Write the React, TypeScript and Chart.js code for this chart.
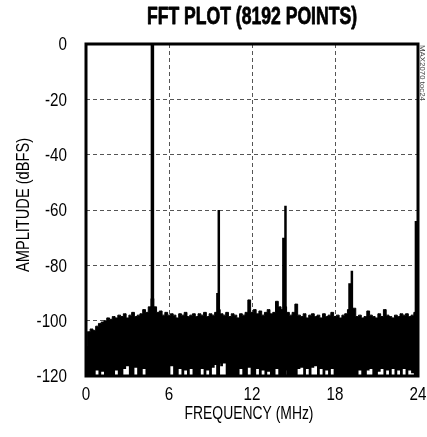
import React, { useEffect, useRef } from "react";
import { Chart, registerables } from "chart.js";

Chart.register(...registerables);

const TITLE = "FFT PLOT (8192 POINTS)";
const X_TITLE = "FREQUENCY (MHz)";
const Y_TITLE = "AMPLITUDE (dBFS)";
const SIDE_NOTE = "MAX2070 toc24";

const FREQ_STEP = 0.2; // MHz between noise-floor samples
const noiseTop = [
  -109, -104, -103, -103.5, -102, -101, -100.5, -100, -99, -99.5,
  -98.5, -99, -98, -98.5, -97.5, -99, -98, -97, -98.5, -98,
  -97.5, -96, -97, -95, -92, -95, -97, -96.5, -98, -97,
  -98, -97.5, -98, -99, -97.5, -98, -97, -98.5, -98, -97.5,
  -98.5, -97.5, -98, -97, -98.5, -97.5, -98, -97, -96, -97.5,
  -98, -97, -98.5, -97.5, -98, -99, -97.5, -98, -97, -92.5,
  -97, -96, -97.5, -96.5, -98, -97, -96, -97.5, -97, -93,
  -95, -96, -95, -97, -98, -97, -94, -98, -98.5, -97.5,
  -99, -98, -97.5, -98.5, -98, -99, -97.5, -98.5, -98, -97,
  -98.5, -98, -99, -98, -97.5, -96, -97, -95.5, -98.5, -98,
  -99, -98.5, -96.5, -98, -98.5, -99, -97.5, -98.5, -96, -98,
  -98.5, -99, -98, -98.5, -97.5, -98, -97.5, -98.5, -98, -97,
  -96,
];
const noiseLow = [
  -120, -120, -120, -120, -118, -120, -118.5, -120, -120, -120,
  -120, -118, -120, -120, -117.5, -116.5, -120, -120, -117, -120,
  -120, -117.5, -120, -120, -118, -120, -120, -120, -120, -120,
  -120, -116.5, -120, -120, -117.5, -120, -118, -120, -117.5, -120,
  -120, -120, -117.5, -120, -118, -120, -117, -116, -115.5, -116.5,
  -115.5, -120, -120, -120, -120, -120, -117.5, -120, -120, -117,
  -120, -120, -117.5, -120, -118, -120, -118.5, -120, -120, -117.5,
  -120, -120, -118, -120, -120, -120, -120, -117.5, -117, -120,
  -117.5, -120, -117, -116.5, -120, -117.5, -120, -118, -120, -117.5,
  -120, -120, -120, -120, -120, -120, -117.5, -120, -120, -118,
  -120, -120, -118, -117.5, -120, -120, -118.5, -117.5, -120, -118,
  -120, -117.5, -120, -118, -120, -117.5, -120, -118, -119, -120,
  -120,
];

const mainSpikeFreqs = [4.8];
const mainSpikeLevels = [0];
const harmonicFreqs = [9.6, 9.5, 14.42, 14.27, 19.22, 19.05, 23.85];
const harmonicLevels = [-60, -90, -58.5, -70, -82, -86.5, -64];

const xTickValues = [0, 6, 12, 18, 24];
const yTickValues = [-120, -100, -80, -60, -40, -20, 0];

const FONT = "'Liberation Sans', Arial, sans-serif";
const NARROW = 0.8;

function spikePoints(freqs: number[], levels: number[], floor: number) {
  const pts: { x: number; y: number | null }[] = [];
  freqs.forEach((f, i) => {
    pts.push({ x: f, y: floor });
    pts.push({ x: f, y: levels[i] });
    pts.push({ x: f, y: null });
  });
  return pts;
}

function fitText(
  ctx: CanvasRenderingContext2D,
  text: string,
  x: number,
  y: number,
  w: number,
  font: string,
  rot: number,
  stroke = 0
) {
  ctx.save();
  ctx.font = font;
  ctx.textAlign = "center";
  ctx.textBaseline = "middle";
  const m = ctx.measureText(text).width;
  const s = m > 0 ? w / m : 1;
  ctx.translate(x, y);
  ctx.rotate(rot);
  ctx.scale(s, 1);
  ctx.fillText(text, 0, 0);
  if (stroke > 0) {
    ctx.lineWidth = stroke;
    ctx.strokeStyle = ctx.fillStyle as string;
    ctx.lineJoin = "round";
    ctx.strokeText(text, 0, 0);
  }
  ctx.restore();
}

function narrowText(
  ctx: CanvasRenderingContext2D,
  text: string,
  x: number,
  y: number,
  align: CanvasTextAlign,
  font: string
) {
  ctx.save();
  ctx.font = font;
  ctx.textAlign = align;
  ctx.textBaseline = "middle";
  ctx.translate(x, y);
  ctx.scale(NARROW, 1);
  ctx.fillText(text, 0, 0);
  ctx.restore();
}

const decor = {
  id: "decor",
  afterDraw(chart: any) {
    const { ctx, chartArea: a, scales } = chart;
    ctx.save();
    ctx.strokeStyle = "#000";
    ctx.lineWidth = 3;
    ctx.strokeRect(a.left, a.top, a.right - a.left, a.bottom - a.top);
    ctx.fillStyle = "#000";
    const tickFont = `19px ${FONT}`;
    yTickValues.forEach((v) => {
      narrowText(ctx, String(v), a.left - 19, scales.y.getPixelForValue(v) + 1, "right", tickFont);
    });
    xTickValues.forEach((v) => {
      narrowText(ctx, String(v), scales.x.getPixelForValue(v), a.bottom + 19, "center", tickFont);
    });
    fitText(ctx, TITLE, (a.left + a.right) / 2, 17, 210, `bold 24px ${FONT}`, 0, 0.8);
    fitText(ctx, X_TITLE, (a.left + a.right) / 2 - 3, 414, 129, `18px ${FONT}`, 0);
    fitText(ctx, Y_TITLE, 24, 205, 134, `18px ${FONT}`, -Math.PI / 2);
    ctx.fillStyle = "#444";
    fitText(ctx, SIDE_NOTE, 422, 73, 56, `8px ${FONT}`, Math.PI / 2);
    ctx.restore();
  },
};

export default function App() {
  const ref = useRef<HTMLCanvasElement | null>(null);
  useEffect(() => {
    if (!ref.current) return;
    const floor = yTickValues[0];
    const chart = new Chart(ref.current, {
      type: "line",
      data: {
        datasets: [
          {
            data: spikePoints(mainSpikeFreqs, mainSpikeLevels, floor) as any,
            borderColor: "#000",
            borderWidth: 3.5,
            pointRadius: 0,
            fill: false,
            spanGaps: false,
          },
          {
            data: spikePoints(harmonicFreqs, harmonicLevels, floor) as any,
            borderColor: "#000",
            borderWidth: 2.5,
            pointRadius: 0,
            fill: false,
            spanGaps: false,
          },
          {
            data: noiseLow.map((v, i) => ({ x: i * FREQ_STEP, y: v })),
            borderColor: "#fff",
            borderWidth: 0,
            backgroundColor: "#fff",
            pointRadius: 0,
            stepped: "middle",
            fill: "start",
          },
          {
            data: noiseTop.map((v, i) => ({ x: i * FREQ_STEP, y: v })),
            borderColor: "#000",
            borderWidth: 1,
            backgroundColor: "#000",
            pointRadius: 0,
            stepped: "middle",
            fill: "start",
          },
        ],
      },
      options: {
        responsive: false,
        animation: false,
        devicePixelRatio: 1,
        layout: { padding: { top: 44, right: 9, left: 0, bottom: 0 } },
        plugins: { legend: { display: false }, tooltip: { enabled: false }, title: { display: false } },
        scales: {
          x: {
            type: "linear",
            min: 0,
            max: 24,
            afterBuildTicks: (s: any) => {
              s.ticks = xTickValues.map((v) => ({ value: v }));
            },
            afterFit: (s: any) => {
              s.height = 61;
              s.paddingLeft = 0;
              s.paddingRight = 0;
            },
            ticks: { display: false },
            grid: { color: "#555", lineWidth: 1, drawTicks: false },
            border: { display: false, dash: [4, 3] },
          },
          y: {
            type: "linear",
            min: -120,
            max: 0,
            afterBuildTicks: (s: any) => {
              s.ticks = yTickValues.map((v) => ({ value: v }));
            },
            afterFit: (s: any) => {
              s.width = 86;
              s.paddingTop = 0;
              s.paddingBottom = 0;
            },
            ticks: { display: false },
            grid: { color: "#555", lineWidth: 1, drawTicks: false },
            border: { display: false, dash: [4, 3] },
          },
        },
      },
      plugins: [decor],
    });
    return () => chart.destroy();
  }, []);
  return (
    <canvas
      ref={ref}
      width={427}
      height={437}
      style={{ position: "fixed", left: 0, top: 0, width: 427, height: 437, display: "block", background: "#fff" }}
    />
  );
}
